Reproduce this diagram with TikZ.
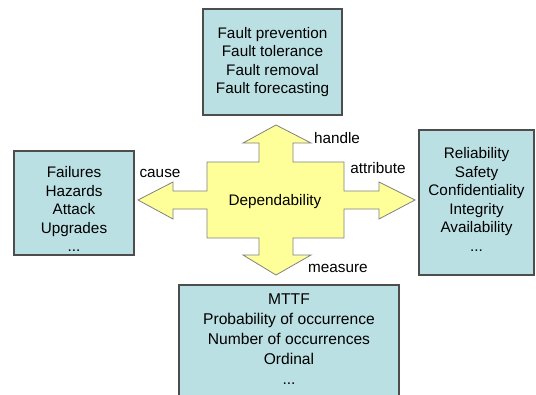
\documentclass[tikz,border=0pt]{standalone}
\usepackage{fontspec}
\setmainfont{Liberation Sans}
\usepackage{tikz}
\usetikzlibrary{positioning}

\definecolor{boxcyan}{HTML}{BBE0E3}
\definecolor{arrowyellow}{HTML}{FFFF99}
\definecolor{boxline}{HTML}{4D4D4D}

\tikzset{
    infobox/.style={draw=boxline, line width=1.1pt, fill=boxcyan, inner sep=0pt},
    boxtext/.style={align=center, inner sep=0pt, font=\fontsize{15.3}{18.5}\selectfont},
    tag/.style={inner sep=0pt, font=\fontsize{15.3}{18}\selectfont}
}

\begin{document}
\begin{tikzpicture}[x=1pt, y=-1pt]
    \useasboundingbox (0,0) rectangle (536,394);

    % the four boxes around the cross
    \node[infobox, minimum width=139pt, minimum height=106pt] (handlebox) at (272.5,62) {};
    \node[infobox, minimum width=120pt, minimum height=104pt] (causebox) at (74,203) {};
    \node[infobox, minimum width=115pt, minimum height=145pt] (attribbox) at (476.5,202.5) {};
    \node[infobox, minimum width=220pt, minimum height=114pt] (measurebox) at (289,342) {};

    \node[boxtext] (handletext) at (handlebox.center)
        {Fault prevention\\Fault tolerance\\Fault removal\\Fault forecasting};
    \node[boxtext] (causetext) at ([yshift=-6pt]causebox.center)
        {Failures\\Hazards\\Attack\\Upgrades\\...};
    \node[boxtext] (attribtext) at ([yshift=3pt]attribbox.center)
        {Reliability\\Safety\\Confidentiality\\Integrity\\Availability\\...};
    \node[boxtext, font=\fontsize{15.6}{20}\selectfont] (measuretext)
        at ([yshift=3pt]measurebox.center)
        {MTTF\\Probability of occurrence\\Number of occurrences\\Ordinal\\...};

    % four-way arrow
    \draw[draw=gray, line width=0.8pt, fill=arrowyellow]
        (207,162) -- (259,162) -- (259,143) -- (243,143) -- (276,125) -- (311,143)
        -- (293,143) -- (293,162) -- (344,162) -- (344,191) -- (379,191) -- (379,182)
        -- (415,200) -- (379,219) -- (379,209) -- (344,209) -- (344,238) -- (293,238)
        -- (293,255) -- (311,255) -- (276,275) -- (243,255) -- (259,255) -- (259,238)
        -- (207,238) -- (207,209) -- (173,209) -- (173,219) -- (138,200) -- (173,182)
        -- (173,191) -- (207,191) -- cycle;

    \node[tag] (dep) at (275,202) {Dependability};
    \node[tag] (handle) at (337,138) {handle};
    \node[tag] (attrib) at (378,168) {attribute};
    \node[tag] (cause) at (160,173) {cause};
    \node[tag] (measure) at (338,268) {measure};
\end{tikzpicture}
\end{document}
